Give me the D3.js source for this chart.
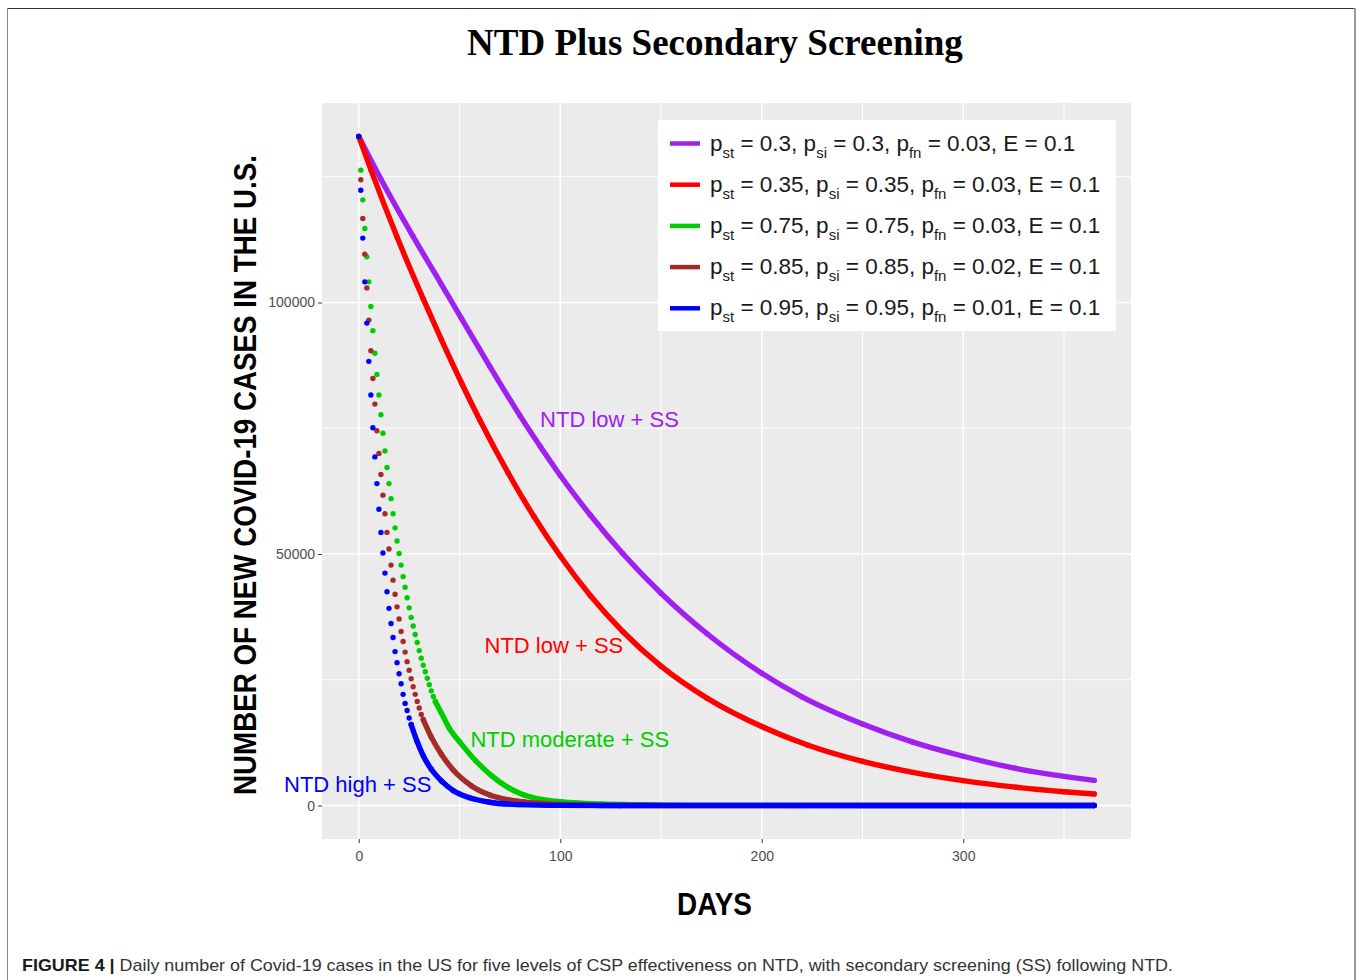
<!DOCTYPE html>
<html>
<head>
<meta charset="utf-8">
<script src="https://cdn.jsdelivr.net/npm/d3@7"></script>
<style>
  body { margin: 0; background: #fff; }
  svg text { font-family: "Liberation Sans", Arial, sans-serif; }
</style>
</head>
<body>
<div id="chart"></div>
<script>
// values (day -> new cases)
const purpleDays = [0, 11, 27, 41, 51, 65, 80, 90, 100, 115, 131, 150, 173, 200, 220, 250, 275, 300, 326, 350, 365];
const purpleCases = [133000, 124500, 113100, 103600, 96800, 87300, 77500, 71400, 65600, 57700, 50100, 42200, 34100, 26300, 21600, 16200, 12600, 9800, 7400, 5800, 5000];

const redDays = [0, 6, 19, 32, 41, 51, 60, 74, 87, 100, 115, 131, 150, 173, 200, 223, 250, 275, 300, 326, 350, 365];
const redCases = [133000, 126400, 113000, 100700, 92600, 84000, 76700, 66200, 57400, 49600, 41700, 34600, 27700, 21300, 15700, 12000, 8800, 6600, 4950, 3650, 2750, 2300];

const greenDays = [0, 1, 2, 3, 4, 5, 6, 7, 8, 9, 10, 11, 12, 13, 14, 15, 16, 17, 18, 19, 20,
  21, 22, 23, 24, 25, 26, 27, 28, 29, 30, 31, 32, 33, 34, 35, 36, 37, 38,
  41, 45, 50, 58, 66, 74, 82, 91, 104, 120, 137, 160, 365];
const greenCases = [133000, 126300, 120400, 114700, 109100, 104100, 99200, 94400, 89900, 85700, 81600,
  77700, 74000, 70500, 67200, 64000, 61000, 58000, 55200, 52600, 50100,
  47800, 45500, 43400, 41300, 39300, 37400, 35700, 34000, 32400, 30800, 29300, 27900, 26600, 25300, 24000, 22800, 21700, 20700,
  18400, 15300, 12700, 8900, 5900, 3600, 2100, 1200, 600, 330, 170, 40, 0];

const brownDays = [0, 1, 2, 3, 4, 5, 6, 7, 8, 9, 10, 11, 12, 13, 14, 15, 16, 17, 18, 19, 20,
  21, 22, 23, 24, 25, 26, 27, 28, 29, 30, 31, 32,
  36, 41, 47, 56, 65, 74, 82, 95, 110, 130, 365];
const brownCases = [133000, 124400, 116700, 109600, 102900, 96500, 90400, 84900, 79800, 74500, 70000,
  65800, 61700, 58000, 54300, 51000, 47800, 44800, 42000, 39500, 37100,
  34600, 32600, 30500, 28600, 26900, 25200, 23600, 22100, 20700, 19400, 18100, 17100,
  13600, 10200, 7000, 3900, 2100, 1150, 700, 320, 120, 0, 0];

const blueDays = [0, 1, 2, 3, 4, 5, 6, 7, 8, 9, 10, 11, 12, 13, 14, 15, 16, 17, 18, 19, 20,
  21, 22, 23, 24, 25, 26,
  29, 32, 36, 41, 47, 55, 65, 79, 100, 130, 365];
const blueCases = [133000, 122300, 112800, 104100, 95900, 88300, 81600, 75100, 69300, 64000, 58900,
  54300, 50200, 46200, 42500, 39200, 36200, 33400, 30600, 28400, 26200,
  24200, 22100, 20300, 18900, 17400, 16100,
  12700, 9900, 7200, 4900, 2950, 1550, 650, 180, 30, 0, 0];

const seriesColors = ['#A020F0', '#FF0000', '#00CD00', '#A52A2A', '#0000FF'];
const legendPst = ['0.3', '0.35', '0.75', '0.85', '0.95'];
const legendPsi = ['0.3', '0.35', '0.75', '0.85', '0.95'];
const legendPfn = ['0.03', '0.03', '0.03', '0.02', '0.01'];
const legendE = ['0.1', '0.1', '0.1', '0.1', '0.1'];

const xMajor = [0, 100, 200, 300];
const xMinor = [50, 150, 250, 350];
const yMajor = [0, 50000, 100000];
const yMinor = [25000, 75000, 125000];

// where the daily dots start to run together into a solid band
const solidFrom = [0, 0, 38, 32, 26];

const series = [
  {days: purpleDays, cases: purpleCases},
  {days: redDays, cases: redCases},
  {days: greenDays, cases: greenCases},
  {days: brownDays, cases: brownCases},
  {days: blueDays, cases: blueCases}
].map((s, i) => ({
  ...s,
  color: seriesColors[i],
  solidFrom: solidFrom[i],
  points: s.days.map((d, j) => ({day: d, cases: s.cases[j]}))
}));

const labels = [
  {text: 'NTD low + SS', color: seriesColors[0], day: 90, cases: 75300},
  {text: 'NTD low + SS', color: seriesColors[1], day: 62.4, cases: 30400},
  {text: 'NTD moderate + SS', color: seriesColors[2], day: 55.4, cases: 11600},
  {text: 'NTD high + SS', color: seriesColors[4], day: -37.1, cases: 2600}
];

const width = 1357, height = 980;
const panel = {left: 322, right: 1131, top: 103, bottom: 839};

const svg = d3.select('#chart').append('svg')
  .attr('width', width)
  .attr('height', height);

// figure frame
svg.append('line').attr('x1', 7).attr('x2', 1356).attr('y1', 8.5).attr('y2', 8.5)
  .attr('stroke', '#333').attr('stroke-width', 1);
svg.append('line').attr('x1', 7.5).attr('x2', 7.5).attr('y1', 8).attr('y2', height)
  .attr('stroke', '#888').attr('stroke-width', 1);
svg.append('line').attr('x1', 1355).attr('x2', 1355).attr('y1', 8).attr('y2', height)
  .attr('stroke', '#999').attr('stroke-width', 2);

const maxDay = d3.max(series, s => d3.max(s.days));
const maxCases = d3.max(series, s => d3.max(s.cases));

const x = d3.scaleLinear()
  .domain([-maxDay * 0.05, maxDay * 1.05])
  .range([panel.left, panel.right]);

const y = d3.scaleLinear()
  .domain([-maxCases * 0.05, maxCases * 1.05])
  .range([panel.bottom, panel.top]);

// panel background + grid
svg.append('rect')
  .attr('x', panel.left).attr('y', panel.top)
  .attr('width', panel.right - panel.left)
  .attr('height', panel.bottom - panel.top)
  .attr('fill', '#EBEBEB');

const grid = svg.append('g');
grid.selectAll('.vminor').data(xMinor).enter().append('line')
  .attr('x1', d => x(d)).attr('x2', d => x(d))
  .attr('y1', panel.top).attr('y2', panel.bottom)
  .attr('stroke', '#fff').attr('stroke-width', 1);
grid.selectAll('.hminor').data(yMinor).enter().append('line')
  .attr('y1', d => y(d)).attr('y2', d => y(d))
  .attr('x1', panel.left).attr('x2', panel.right)
  .attr('stroke', '#fff').attr('stroke-width', 1);
grid.selectAll('.vmajor').data(xMajor).enter().append('line')
  .attr('x1', d => x(d)).attr('x2', d => x(d))
  .attr('y1', panel.top).attr('y2', panel.bottom)
  .attr('stroke', '#fff').attr('stroke-width', 1.6);
grid.selectAll('.hmajor').data(yMajor).enter().append('line')
  .attr('y1', d => y(d)).attr('y2', d => y(d))
  .attr('x1', panel.left).attr('x2', panel.right)
  .attr('stroke', '#fff').attr('stroke-width', 1.6);

// axes
const xAxis = svg.append('g')
  .attr('transform', `translate(0,${panel.bottom})`)
  .call(d3.axisBottom(x).tickValues(xMajor).tickSize(4).tickPadding(8).tickFormat(d3.format('d')));
const yAxis = svg.append('g')
  .attr('transform', `translate(${panel.left},0)`)
  .call(d3.axisLeft(y).tickValues(yMajor).tickSize(4).tickPadding(3).tickFormat(d3.format('d')));

[xAxis, yAxis].forEach(ax => {
  ax.select('.domain').remove();
  ax.selectAll('.tick line').attr('stroke', '#333').attr('stroke-width', 1);
  ax.selectAll('.tick text')
    .attr('fill', '#4D4D4D')
    .style('font-size', '14px')
    .style('font-family', '"Liberation Sans", Arial, sans-serif');
});

// series: solid band where dots overlap, individual dots elsewhere
const band = d3.line()
  .x(d => x(d.day))
  .y(d => y(d.cases))
  .curve(d3.curveMonotoneX);

const dotR = 2.7;

series.forEach(s => {
  const g = svg.append('g');
  g.append('path')
    .datum(s.points.filter(p => p.day >= s.solidFrom))
    .attr('d', band)
    .attr('fill', 'none')
    .attr('stroke', s.color)
    .attr('stroke-width', dotR * 2)
    .attr('stroke-linecap', 'round')
    .attr('stroke-linejoin', 'round');

  g.selectAll('circle')
    .data(s.points)
    .enter().append('circle')
    .attr('cx', d => x(d.day))
    .attr('cy', d => y(d.cases))
    .attr('r', dotR)
    .attr('fill', s.color);
});

// in-plot labels
svg.selectAll('.curve-label')
  .data(labels)
  .enter().append('text')
  .attr('class', 'curve-label')
  .attr('x', d => x(d.day))
  .attr('y', d => y(d.cases))
  .attr('fill', d => d.color)
  .style('font-size', '22px')
  .text(d => d.text);

// legend
const legend = svg.append('g');
legend.append('rect')
  .attr('x', 658).attr('y', 120)
  .attr('width', 458).attr('height', 211)
  .attr('fill', '#fff');

const rowGap = 41.2;
seriesColors.forEach((c, i) => {
  const cy = 143.5 + i * rowGap;
  legend.append('line')
    .attr('x1', 670).attr('x2', 700)
    .attr('y1', cy).attr('y2', cy)
    .attr('stroke', c).attr('stroke-width', 4.5);

  const t = legend.append('text')
    .attr('x', 710).attr('y', cy + 7)
    .attr('fill', '#1a1a1a')
    .style('font-size', '22.5px');

  const pieces = [
    ['p', 0], ['st', 1], [' = ' + legendPst[i] + ', p', 0],
    ['si', 1], [' = ' + legendPsi[i] + ', p', 0],
    ['fn', 1], [' = ' + legendPfn[i] + ', E = ' + legendE[i], 0]
  ];
  let low = false;
  pieces.forEach(([txt, sub]) => {
    const ts = t.append('tspan').text(txt);
    if (sub && !low) { ts.attr('dy', 7).style('font-size', '15px'); low = true; }
    else if (!sub && low) { ts.attr('dy', -7); low = false; }
  });
});

// titles
svg.append('text')
  .attr('x', 715).attr('y', 55)
  .attr('text-anchor', 'middle')
  .style('font-family', '"Liberation Serif", "Times New Roman", serif')
  .style('font-weight', 'bold')
  .style('font-size', '37px')
  .attr('fill', '#000')
  .text('NTD Plus Secondary Screening');

svg.append('text')
  .attr('transform', 'translate(256,475) rotate(-90)')
  .attr('text-anchor', 'middle')
  .attr('textLength', 640)
  .attr('lengthAdjust', 'spacingAndGlyphs')
  .style('font-family', '"Liberation Sans Narrow", "Arial Narrow", "Liberation Sans", Arial, sans-serif')
  .style('font-weight', 'bold')
  .style('font-size', '31px')
  .attr('fill', '#000')
  .text('NUMBER OF NEW COVID-19 CASES IN THE U.S.');

svg.append('text')
  .attr('x', 714.5).attr('y', 915)
  .attr('text-anchor', 'middle')
  .attr('textLength', 75)
  .attr('lengthAdjust', 'spacingAndGlyphs')
  .style('font-family', '"Liberation Sans Narrow", "Arial Narrow", "Liberation Sans", Arial, sans-serif')
  .style('font-weight', 'bold')
  .style('font-size', '31px')
  .attr('fill', '#000')
  .text('DAYS');

// caption
const cap = svg.append('text')
  .attr('x', 22).attr('y', 971)
  .attr('textLength', 1151)
  .attr('lengthAdjust', 'spacingAndGlyphs')
  .style('font-size', '17px')
  .attr('fill', '#333');
cap.append('tspan').style('font-weight', 'bold').attr('fill', '#1a1a1a').text('FIGURE 4 | ');
cap.append('tspan').text('Daily number of Covid-19 cases in the US for five levels of CSP effectiveness on NTD, with secondary screening (SS) following NTD.');
</script>
</body>
</html>
